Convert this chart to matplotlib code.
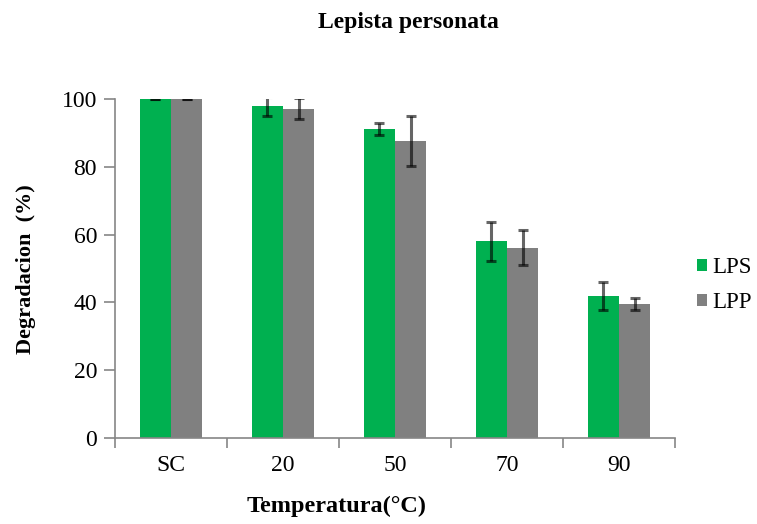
import numpy as np
import matplotlib
matplotlib.use("Agg")
import matplotlib.pyplot as plt

categories = ["SC", "20", "50", "70", "90"]
lps = [100.0, 97.9, 91.2, 58.0, 41.9]
lps_err = [0.0, 2.8, 1.8, 5.7, 4.2]
lpp = [100.0, 97.2, 87.7, 56.2, 39.6]
lpp_err = [0.0, 3.0, 7.4, 5.3, 1.8]
yticks = [0, 20, 40, 60, 80, 100]

serif = ["Liberation Serif", "DejaVu Serif"]
spine_col = "#868686"

fig = plt.figure(figsize=(7.57, 5.24), dpi=100)
ax = fig.add_axes([0.152, 0.164, 0.7397, 0.647])

x = np.arange(len(categories))
w = 0.28
err_kw = dict(ecolor=(0, 0, 0, 0.6), elinewidth=2.2, capsize=3.5, capthick=2.2)
ax.bar(x - w / 2, lps, w, color="#00B050", label="LPS", yerr=lps_err,
       error_kw=err_kw, zorder=2)
ax.bar(x + w / 2, lpp, w, color="#808080", label="LPP", yerr=lpp_err,
       error_kw=err_kw, zorder=2)

ax.set_xlim(-0.5, len(categories) - 0.5)
ax.set_ylim(0, 100)
ax.set_yticks(yticks)
ax.set_yticklabels([str(v) for v in yticks], family=serif, fontsize=17)

# category labels centred, tick marks on category boundaries
ax.set_xticks(x)
ax.set_xticklabels(categories, family=serif, fontsize=17)
ax.tick_params(axis="x", length=0, pad=12)
ax.set_xticks(np.arange(-0.5, len(categories)), minor=True)
ax.tick_params(axis="x", which="minor", length=7, width=1.2, color=spine_col,
               direction="out")
ax.tick_params(axis="y", length=8, width=1.2, color=spine_col, pad=5)

for s in ["top", "right"]:
    ax.spines[s].set_visible(False)
for s in ["left", "bottom"]:
    ax.spines[s].set_color(spine_col)
    ax.spines[s].set_linewidth(1.2)

fig.text(0.539, 0.958, "Lepista personata", ha="center", va="center",
         family=serif, fontweight="bold", fontsize=17)
fig.text(0.034, 0.487, "Degradacion  (%)", ha="center", va="center",
         rotation=90, family=serif, fontweight="bold", fontsize=16)
fig.text(0.445, 0.033, "Temperatura(\u00b0C)", ha="center", va="center",
         family=serif, fontweight="bold", fontsize=17.5)

leg = fig.legend(loc="center left", bbox_to_anchor=(0.893, 0.456), frameon=False,
                 handlelength=0.45, handleheight=0.45, handletextpad=0.25,
                 labelspacing=0.6, prop={"family": serif, "size": 16.5})

fig.savefig("out.png", dpi=100)
